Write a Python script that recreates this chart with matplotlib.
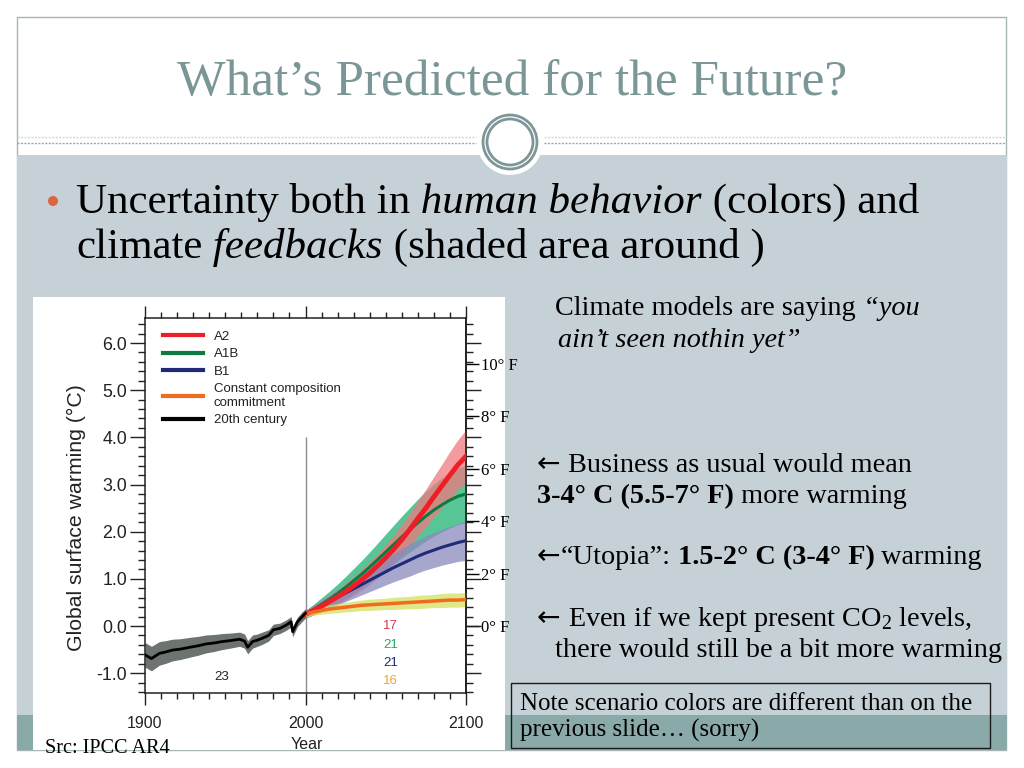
import matplotlib
matplotlib.use("Agg")
import matplotlib.pyplot as plt
import numpy as np
from matplotlib.patches import Rectangle, Ellipse
from matplotlib.lines import Line2D

# ---------------- data ----------------
hist_years = [1900, 1904, 1909, 1913, 1917, 1922, 1928, 1933, 1938, 1943, 1948, 1953,
              1959, 1962, 1964, 1967, 1970, 1973, 1977, 1980, 1984, 1988, 1991, 1992,
              1995, 1998, 2000]
hist_vals = [-0.61, -0.69, -0.58, -0.55, -0.51, -0.49, -0.45, -0.42, -0.38, -0.36, -0.33, -0.31,
             -0.28, -0.32, -0.45, -0.33, -0.30, -0.26, -0.20, -0.08, -0.05, 0.02, 0.09, -0.12,
             0.09, 0.20, 0.27]
hist_spread = [0.26, 0.26, 0.25, 0.24, 0.23, 0.22, 0.21, 0.20, 0.19, 0.18, 0.17, 0.16,
               0.15, 0.15, 0.14, 0.14, 0.13, 0.13, 0.12, 0.12, 0.11, 0.11, 0.11, 0.11,
               0.10, 0.10, 0.10]

fut_years = [2000, 2005, 2010, 2015, 2020, 2025, 2030, 2035, 2040, 2045, 2050,
             2055, 2060, 2065, 2070, 2075, 2080, 2085, 2090, 2095, 2100]
a2_vals = [0.25, 0.33, 0.42, 0.52, 0.62, 0.73, 0.85, 0.98, 1.12, 1.28, 1.45,
           1.63, 1.83, 2.05, 2.28, 2.50, 2.74, 2.97, 3.20, 3.42, 3.60]
a2_spread = [0.08, 0.10, 0.12, 0.14, 0.16, 0.18, 0.20, 0.22, 0.24, 0.26, 0.28,
             0.30, 0.32, 0.34, 0.37, 0.40, 0.43, 0.46, 0.50, 0.53, 0.56]
a1b_vals = [0.25, 0.35, 0.46, 0.57, 0.69, 0.82, 0.96, 1.10, 1.25, 1.41, 1.57,
            1.73, 1.89, 2.04, 2.19, 2.33, 2.46, 2.57, 2.67, 2.75, 2.80]
a1b_spread = [0.08, 0.11, 0.14, 0.17, 0.20, 0.23, 0.26, 0.29, 0.32, 0.35, 0.38,
              0.41, 0.44, 0.47, 0.50, 0.53, 0.55, 0.57, 0.59, 0.60, 0.61]
b1_vals = [0.25, 0.34, 0.43, 0.52, 0.61, 0.70, 0.79, 0.88, 0.97, 1.06, 1.15,
           1.24, 1.32, 1.40, 1.48, 1.55, 1.61, 1.67, 1.72, 1.77, 1.81]
b1_spread = [0.08, 0.10, 0.12, 0.14, 0.16, 0.18, 0.20, 0.22, 0.24, 0.26, 0.28,
             0.30, 0.32, 0.34, 0.35, 0.36, 0.37, 0.38, 0.39, 0.40, 0.42]
cc_vals = [0.25, 0.30, 0.33, 0.36, 0.38, 0.40, 0.42, 0.44, 0.45, 0.46, 0.47,
           0.48, 0.49, 0.50, 0.51, 0.52, 0.53, 0.54, 0.55, 0.55, 0.56]
cc_spread = [0.06, 0.07, 0.08, 0.09, 0.10, 0.10, 0.11, 0.11, 0.12, 0.12, 0.12,
             0.13, 0.13, 0.13, 0.14, 0.14, 0.14, 0.15, 0.15, 0.15, 0.15]

legend_labels = ["A2", "A1B", "B1", "Constant composition\ncommitment", "20th century"]
model_counts = ["23", "17", "21", "21", "16"]
c_ticks = [-1.0, 0.0, 1.0, 2.0, 3.0, 4.0, 5.0, 6.0]
f_ticks = [0, 2, 4, 6, 8, 10]
x_ticks = [1900, 2000, 2100]

# ---------------- style ----------------
SERIF = ["Liberation Serif", "DejaVu Serif"]
SANS = ["Liberation Sans", "DejaVu Sans"]
ARROW = ["DejaVu Sans"]
plt.rcParams["mathtext.fontset"] = "custom"
plt.rcParams["mathtext.rm"] = "Liberation Serif"
plt.rcParams["mathtext.it"] = "Liberation Serif:italic"
plt.rcParams["mathtext.bf"] = "Liberation Serif:bold"

W, H = 1024, 768
fig = plt.figure(figsize=(W / 100, H / 100), dpi=100)
fig.patch.set_facecolor("white")


def fx(x):
    return x / W


def fy(y):
    return 1 - y / H


def rect(x0, y0, x1, y1, **kw):
    r = Rectangle((fx(x0), fy(y1)), (x1 - x0) / W, (y1 - y0) / H,
                  transform=fig.transFigure, **kw)
    fig.add_artist(r)
    return r


# slide background
rect(17, 17, 1006, 750, facecolor="white", edgecolor="#a7b6b7", lw=1.0, zorder=-10)
rect(17, 155, 1007, 750, facecolor="#c6d1d7", edgecolor="none", zorder=-9)
rect(17, 715, 1007, 750, facecolor="#8aa9a9", edgecolor="none", zorder=-8)
for yy, col in [(137, "#d0d8d8"), (143, "#9aa9aa")]:
    fig.add_artist(Line2D([fx(17), fx(476)], [fy(yy), fy(yy)], transform=fig.transFigure,
                          color=col, lw=1.0, ls=(0, (1.5, 1.0)), zorder=-7))
    fig.add_artist(Line2D([fx(544), fx(1006)], [fy(yy), fy(yy)], transform=fig.transFigure,
                          color=col, lw=1.0, ls=(0, (1.5, 1.0)), zorder=-7))
# circle ornament
fig.add_artist(Ellipse((fx(510), fy(142)), 66 / W, 66 / H, transform=fig.transFigure,
                       facecolor="white", edgecolor="none", zorder=-6))
for r in (27, 23):
    fig.add_artist(Ellipse((fx(510), fy(142)), 2 * r / W, 2 * r / H, transform=fig.transFigure,
                           facecolor="none", edgecolor="#7e9698", lw=2.0, zorder=-5))

# white chart box
rect(33, 297, 505, 750, facecolor="white", edgecolor="none", zorder=-4)

# title
fig.text(fx(512), fy(95), "What\u2019s Predicted for the Future?", ha="center", va="baseline",
         fontsize=37, color="#7b9697", family=SERIF)

renderer = fig.canvas.get_renderer()


def rich(x, y, parts, size, color="black"):
    cur = x
    for part in parts:
        txt, style, weight = part[:3]
        fam = part[3] if len(part) > 3 else SERIF
        t = fig.text(fx(cur), fy(y), txt, fontsize=size, fontstyle=style, fontweight=weight,
                     family=fam, color=color, ha="left", va="baseline")
        cur += t.get_window_extent(renderer).width
    return cur


# bullet
fig.add_artist(Ellipse((fx(53), fy(201)), 10 / W, 10 / H, transform=fig.transFigure,
                       facecolor="#dc6440", edgecolor="none"))
rich(76, 213, [("Uncertainty both in", "normal", "normal"),
               (" human behavior", "italic", "normal"),
               (" (colors) and", "normal", "normal")], 31)
rich(76, 258, [("climate", "normal", "normal"),
               (" feedbacks", "italic", "normal"),
               (" (shaded area around )", "normal", "normal")], 31)

# right-hand text
RS = 20.3
rich(555, 315, [("Climate models are saying", "normal", "normal"),
                (" \u201cyou", "italic", "normal")], RS)
rich(558, 347, [("ain\u2019t seen nothin yet\u201d", "italic", "normal")], RS)
rich(537, 472, [("\u2190", "normal", "normal", ARROW),
                (" Business as usual would mean", "normal", "normal")], RS)
rich(537, 503, [("3-4\u00b0 C (5.5-7\u00b0 F)", "normal", "bold"),
                (" more warming", "normal", "normal")], RS)
rich(537, 564, [("\u2190", "normal", "normal", ARROW),
                ("\u201cUtopia\u201d:", "normal", "normal"),
                (" 1.5-2\u00b0 C (3-4\u00b0 F)", "normal", "bold"),
                (" warming", "normal", "normal")], RS)
rich(537, 626, [("\u2190", "normal", "normal", ARROW),
                (" Even if we kept present CO$_\\mathrm{2}$ levels,", "normal", "normal")], RS)
rich(555, 657, [("there would still be a bit more warming", "normal", "normal")], RS)

# note box
rect(511, 683, 990, 748, facecolor="none", edgecolor="#1a1a1a", lw=1.0, zorder=2)
rich(520, 710, [("Note scenario colors are different than on the", "normal", "normal")], 18)
rich(520, 737, [("previous slide\u2026 (sorry)", "normal", "normal")], 18)

fig.text(fx(45), fy(753), "Src: IPCC AR4", fontsize=14.6, family=SERIF, ha="left", va="baseline")

# ---------------- chart ----------------
ax = fig.add_axes([fx(145), fy(693), (466 - 145) / W, (693 - 318) / H])
ax.set_facecolor("none")
ax.set_xlim(1900, 2100)
ax.set_ylim(-1.42, 6.53)

hy = np.array(hist_years)
hv = np.array(hist_vals)
hs = np.array(hist_spread)
fyrs = np.array(fut_years)

ax.fill_between(hy, hv - hs, hv + hs, color="#6d736f", lw=0, zorder=1)
series = [
    (a1b_vals, a1b_spread, "#1fb273"),
    (a2_vals, a2_spread, "#f07a7e"),
    (b1_vals, b1_spread, "#8a89bd"),
    (cc_vals, cc_spread, "#d6df5c"),
]
for vals, spr, bc in series:
    v = np.array(vals)
    s = np.array(spr)
    ax.fill_between(fyrs, v - s, v + s, color=bc, alpha=0.75, lw=0, zorder=2)

ax.vlines(2000, -1.42, 4.0, color="#8c8c8c", lw=1.0, zorder=1.5)

l_b1, = ax.plot(fyrs, b1_vals, color="#1f2a7a", lw=2.2, zorder=4)
l_a1b, = ax.plot(fyrs, a1b_vals, color="#0d7a40", lw=2.2, zorder=4)
l_a2, = ax.plot(fyrs, a2_vals, color="#ee1d26", lw=3.5, zorder=5)
l_cc, = ax.plot(fyrs, cc_vals, color="#f26a21", lw=2.5, zorder=5)
l_h, = ax.plot(hy, hv, color="black", lw=2.0, zorder=5)

leg = ax.legend([l_a2, l_a1b, l_b1, l_cc, l_h], legend_labels, loc="upper left",
                bbox_to_anchor=(0.056, 0.967), frameon=False, handlelength=3.0,
                handletextpad=0.85, labelspacing=0.4, borderpad=0, borderaxespad=0,
                prop={"family": SANS, "size": 9.5})
for t in leg.get_texts():
    t.set_color("#222222")
for h in leg.get_lines():
    h.set_linewidth(3.0)

count_colors = ["#222222", "#d93a4f", "#23a865", "#1f2a7a", "#f0a33a"]
count_pos = [(1947.5, -1.09), (2053, -0.01), (2053, -0.40), (2053, -0.79), (2053, -1.17)]
for lab, col, (px_, py_) in zip(model_counts, count_colors, count_pos):
    ax.text(px_, py_, lab, color=col, fontsize=9.5, family=SANS, ha="center", va="center")

ax.set_xticks(x_ticks)
ax.set_xticks(np.arange(1900, 2101, 10), minor=True)
ax.set_xticklabels([str(x) for x in x_ticks], family=SANS, fontsize=11.5, color="#222222")
ax.set_yticks(c_ticks)
ax.set_yticks(np.arange(-1.4, 6.45, 0.2), minor=True)
ax.set_yticklabels([f"{v:.1f}" for v in c_ticks], family=SANS, fontsize=12.8, color="#222222")
ax.tick_params(axis="both", which="both", direction="out", top=True, right=True, width=1.0,
               color="#222222")
ax.tick_params(axis="y", which="major", length=10.5, pad=2.5)
ax.tick_params(axis="y", which="minor", length=5)
ax.tick_params(axis="x", which="major", length=8.5, pad=8)
ax.tick_params(axis="x", which="minor", length=4.5)
for sp in ax.spines.values():
    sp.set_linewidth(1.1)
    sp.set_color("#222222")

ax.set_ylabel("Global surface warming (\u00b0C)", family=SANS, fontsize=15.3, color="#222222")
ax.yaxis.set_label_coords((86 - 145) / 321, 0.469)
ax.set_xlabel("Year", family=SANS, fontsize=11.5, color="#222222")
ax.xaxis.set_label_coords(0.505, -0.117)

sec = ax.secondary_yaxis("right", functions=(lambda c: c * 1.8, lambda f: f / 1.8))
sec.set_yticks(f_ticks)
sec.set_yticklabels([f"{f}\u00b0 F" for f in f_ticks], family=SERIF, fontsize=12)
sec.tick_params(axis="y", which="major", direction="out", length=9, pad=1.5, width=1.0)
sec.tick_params(axis="y", which="minor", length=0)
sec.spines["right"].set_linewidth(1.1)

fig.savefig("out.png", dpi=100)
